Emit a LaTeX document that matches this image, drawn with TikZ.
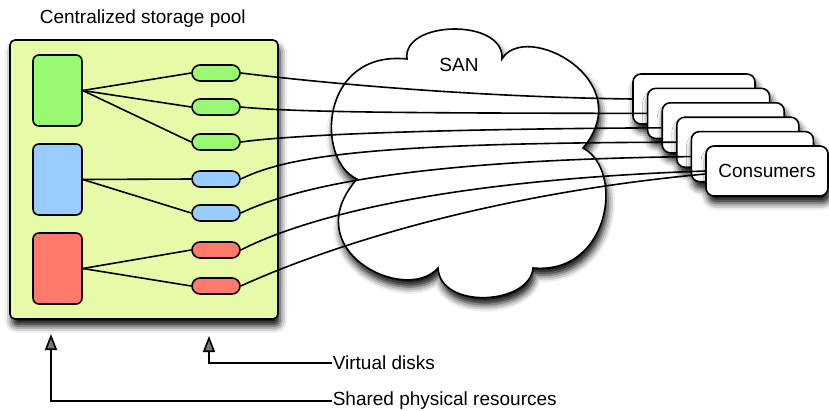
\documentclass[tikz,border=0pt]{standalone}
\usepackage{fontspec}
\setmainfont{Liberation Sans}
\usetikzlibrary{shadows.blur,arrows.meta,calc}

\definecolor{poolfill}{RGB}{230,250,168}
\definecolor{diskgreen}{RGB}{153,250,114}
\definecolor{diskblue}{RGB}{153,204,255}
\definecolor{diskred}{RGB}{255,122,108}

\begin{document}
\begin{tikzpicture}[x=1pt,y=-1pt,
  line width=1.6pt,
  every node/.style={font=\fontsize{19}{22}\selectfont},
  softshadow/.style={blur shadow={shadow xshift=2pt,shadow yshift=-7pt,shadow blur radius=7pt,shadow opacity=95}},
  pool/.style={draw,fill=poolfill,rounded corners=5pt,minimum width=268pt,minimum height=279pt,inner sep=0pt,softshadow},
  physbox/.style={draw,rounded corners=6pt,minimum width=49pt,minimum height=71pt,inner sep=0pt},
  vdisk/.style={draw,rounded corners=8pt,minimum width=48pt,minimum height=16pt,inner sep=0pt},
  consumer/.style={draw,fill=white,rounded corners=8pt,minimum width=122pt,minimum height=50pt,inner sep=0pt,softshadow},
  link/.style={line width=1.6pt},
  note/.style={inner sep=0pt,anchor=west},
  pointer/.style={-{Triangle[length=16pt,width=12pt]},line width=1.6pt}]

\useasboundingbox (0,0) rectangle (829,410);

% storage pool and its contents
\node[anchor=base west,inner sep=0pt] (title) at (39,23) {Centralized storage pool};
\node[pool] (pool) at (144,179.5) {};

\node[physbox,fill=diskgreen] (pg) at (57.5,90.5) {};
\node[physbox,fill=diskblue]  (pb) at (57.5,179.5) {};
\node[physbox,fill=diskred]   (pr) at (57.5,268.5) {};

\node[vdisk,fill=diskgreen] (v1) at (216,73) {};
\node[vdisk,fill=diskgreen] (v2) at (216,107) {};
\node[vdisk,fill=diskgreen] (v3) at (216,142) {};
\node[vdisk,fill=diskblue]  (v4) at (216,179) {};
\node[vdisk,fill=diskblue]  (v5) at (216,213) {};
\node[vdisk,fill=diskred]   (v6) at (216,250) {};
\node[vdisk,fill=diskred]   (v7) at (216,286) {};

\draw[link] (pg.east) -- (v1.west);
\draw[link] (pg.east) -- (v2.west);
\draw[link] (pg.east) -- (v3.west);
\draw[link] (pb.east) -- (v4.west);
\draw[link] (pb.east) -- (v5.west);
\draw[link] (pr.east) -- (v6.west);
\draw[link] (pr.east) -- (v7.west);

% SAN cloud
\path[draw,fill=white,softshadow]
  (407,59) .. controls (402,20) and (505,18) .. (502,59)
           .. controls (525,20) and (640,80) .. (583,148)
           .. controls (625,170) and (610,275) .. (533,268)
           .. controls (530,305) and (440,310) .. (438,268)
           .. controls (405,305) and (295,250) .. (357,179)
           .. controls (315,160) and (320,50) .. (407,59) -- cycle;
\node (san) at (459,65) {SAN};

% stacked consumers
\node[consumer] (c1) at (694,99) {};
\node[consumer] (c2) at (708.6,113.4) {};
\node[consumer] (c3) at (723.2,127.8) {};
\node[consumer] (c4) at (737.8,142.2) {};
\node[consumer] (c5) at (752.4,156.6) {};
\node[consumer] (c6) at (767,171) {Consumers};

% virtual disks to consumers
\draw[link] (v1.east) .. controls (330,84) and (480,97) .. (c1.west);
\draw[link] (v2.east) .. controls (300,113) and (450,113) .. (c2.west);
\draw[link] (v3.east) .. controls (300,134) and (450,129) .. (c3.west);
\draw[link] (v4.east) .. controls (290,155) and (380,143) .. (c4.west);
\draw[link] (v5.east) .. controls (300,185) and (420,160) .. (c5.west);
\draw[link] (v6.east) .. controls (310,215) and (450,180) .. (c6.west);
\draw[link] (v7.east) .. controls (320,250) and (480,195) .. ([yshift=-3pt]c6.west);

% annotations
\coordinate (physTip) at (51,334);
\coordinate (virtTip) at (209,336);
\node[note] (lblV) at (332,363) {Virtual disks};
\node[note] (lblS) at (332,401) {Shared physical resources};
\draw[pointer] (lblV.west) -| (virtTip);
\draw[pointer] (lblS.west) -| (physTip);
\end{tikzpicture}
\end{document}
